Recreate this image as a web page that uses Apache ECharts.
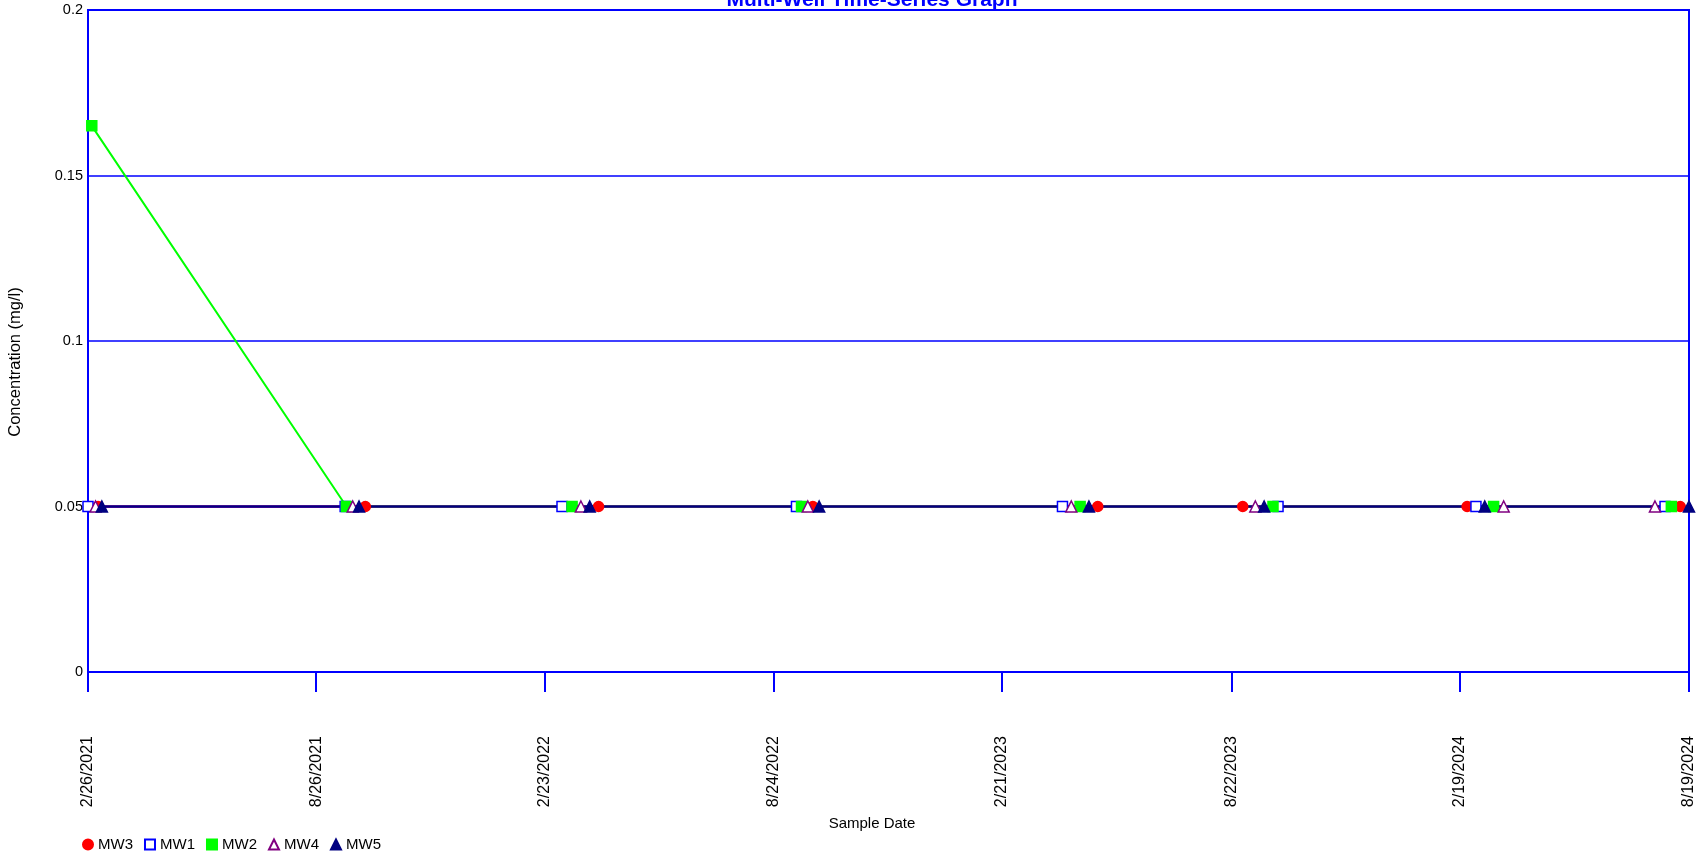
<!DOCTYPE html>
<html><head><meta charset="utf-8">
<script src="https://cdn.jsdelivr.net/npm/echarts@6/dist/echarts.min.js"></script>
<style>html,body{margin:0;padding:0;background:#fff}#c{width:1698px;height:858px}</style>
</head><body><div id="c"></div>
<script>
// ---- data ----
const titleText = 'Multi-Well Time-Series Graph';
const xAxisName = 'Sample Date';
const yAxisName = 'Concentration (mg/l)';
const xTickLabels = ['2/26/2021','8/26/2021','2/23/2022','8/24/2022','2/21/2023','8/22/2023','2/19/2024','8/19/2024'];
const yMin = 0, yMax = 0.2, yStep = 0.05;
const seriesNames = ['MW3','MW1','MW2','MW4','MW5'];

const mw3Dates = ['2021-03-06','2021-10-04','2022-04-07','2022-09-24','2023-05-08','2023-08-31','2024-02-25','2024-08-12'];
const mw3Values = [0.05,0.05,0.05,0.05,0.05,0.05,0.05,0.05];
const mw1Dates = ['2021-02-26','2021-09-18','2022-03-09','2022-09-11','2023-04-10','2023-09-28','2024-03-03','2024-07-31'];
const mw1Values = [0.05,0.05,0.05,0.05,0.05,0.05,0.05,0.05];
const mw2Dates = ['2021-03-01','2021-09-19','2022-03-17','2022-09-15','2023-04-24','2023-09-24','2024-03-17','2024-08-05'];
const mw2Values = [0.165,0.05,0.05,0.05,0.05,0.05,0.05,0.05];
const mw4Dates = ['2021-03-04','2021-09-24','2022-03-24','2022-09-20','2023-04-17','2023-09-10','2024-03-25','2024-07-23'];
const mw4Values = [0.05,0.05,0.05,0.05,0.05,0.05,0.05,0.05];
const mw5Dates = ['2021-03-09','2021-09-29','2022-03-31','2022-09-29','2023-05-01','2023-09-17','2024-03-10','2024-08-19'];
const mw5Values = [0.05,0.05,0.05,0.05,0.05,0.05,0.05,0.05];

// ---- helpers ----
function isoTs(s){ const p = s.split('-').map(Number); return Date.UTC(p[0], p[1]-1, p[2]); }
function mdyTs(s){ const p = s.split('/').map(Number); return Date.UTC(p[2], p[0]-1, p[1]); }
function fmtMDY(ts){ const d = new Date(ts); return (d.getUTCMonth()+1)+'/'+d.getUTCDate()+'/'+d.getUTCFullYear(); }
const xTicks = xTickLabels.map(mdyTs);

const BLUE = '#0000FF';
const FONT = '"Liberation Sans", Arial, sans-serif';
const styles = {
  MW3: {symbol:'circle', size:10, color:'#FF0000', fill:'#FF0000', line:'#FF0000'},
  MW1: {symbol:'rect', size:10, color:'#0000FF', fill:'#FFFFFF', line:'#0000FF'},
  MW2: {symbol:'rect', size:10, color:'#00FF00', fill:'#00FF00', line:'#00FF00'},
  MW4: {symbol:'triangle', size:11, color:'#800080', fill:'#FFFFFF', line:'#800080'},
  MW5: {symbol:'triangle', size:11, color:'#000080', fill:'#000080', line:'#000080'}
};
const seriesData = {
  MW3: [mw3Dates, mw3Values], MW1: [mw1Dates, mw1Values], MW2: [mw2Dates, mw2Values],
  MW4: [mw4Dates, mw4Values], MW5: [mw5Dates, mw5Values]
};

const series = seriesNames.map(n => {
  const st = styles[n];
  const [ds, vs] = seriesData[n];
  return {
    name: n, type: 'line', clip: false,
    symbol: st.symbol, symbolSize: st.size, showAllSymbol: true,
    lineStyle: {color: st.line, width: 2},
    itemStyle: {color: st.fill, borderColor: st.color, borderWidth: 1.5},
    emphasis: {disabled: true},
    data: ds.map((d, i) => [isoTs(d), vs[i]])
  };
});

const chart = echarts.init(document.getElementById('c'), null, {renderer: 'canvas'});
chart.setOption({
  animation: false,
  backgroundColor: '#FFFFFF',
  grid: {left: 88, top: 10, right: 9, bottom: 186, show: true, borderColor: BLUE, borderWidth: 2, backgroundColor: 'transparent'},
  xAxis: {
    type: 'value', min: xTicks[0], max: xTicks[xTicks.length-1],
    axisLine: {show: true, lineStyle: {color: BLUE, width: 2}},
    axisTick: {show: true, customValues: xTicks, length: 20, lineStyle: {color: BLUE, width: 2}},
    axisLabel: {customValues: xTicks, rotate: 90, margin: 64, fontSize: 16, color: '#000', fontFamily: FONT, formatter: v => fmtMDY(v)},
    splitLine: {show: false}
  },
  yAxis: {
    type: 'value', min: yMin, max: yMax, interval: yStep,
    axisLine: {show: false}, axisTick: {show: false},
    axisLabel: {fontSize: 14.5, margin: 5, color: '#000', fontFamily: FONT},
    splitLine: {show: true, lineStyle: {color: BLUE, width: 1.5}}
  },
  legend: {
    left: 82, top: 837, padding: 0, itemWidth: 10, itemHeight: 10, itemGap: 11,
    textStyle: {fontSize: 15, color: '#000', fontFamily: FONT},
    data: seriesNames.map(n => ({name: n, icon: styles[n].symbol}))
  },
  graphic: [
    {type: 'text', x: 872, y: 11, z: 100, style: {text: titleText, fill: BLUE, font: 'bold 21px ' + FONT, align: 'center', verticalAlign: 'bottom'}},
    {type: 'text', x: 872, y: 824, style: {text: xAxisName, fill: '#000', font: '15px ' + FONT, align: 'center', verticalAlign: 'middle'}},
    {type: 'text', x: 15, y: 362, rotation: Math.PI/2, style: {text: yAxisName, fill: '#000', font: '16.5px ' + FONT, align: 'center', verticalAlign: 'middle'}}
  ],
  series: series
});
</script></body></html>
